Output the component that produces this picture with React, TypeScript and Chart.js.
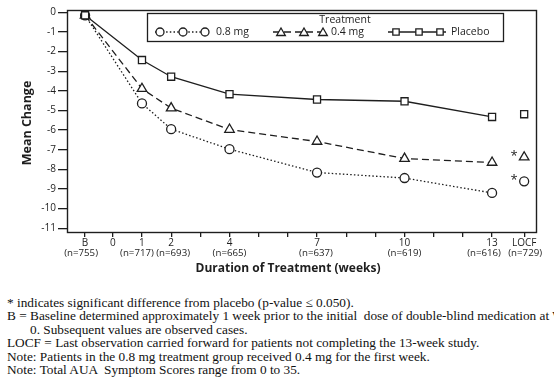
import React, { useEffect, useRef } from "react";
import { Chart, registerables } from "chart.js";

Chart.register(...registerables);

// ---- data ----
const weekPositions = [-0.95, 1, 2, 4, 7, 10, 13]; // B, 1, 2, 4, 7, 10, 13
const locfPosition = 14.1;
const xTickPositions = [-0.95, 0, 1, 2, 3, 4, 5, 6, 7, 8, 9, 10, 11, 12, 13, 14.1];
const xTickNames = ["B", "0", "1", "2", "", "4", "", "", "7", "", "", "10", "", "", "13", "LOCF"];
const xTickCounts = ["(n=755)", "", "(n=717)", "(n=693)", "", "(n=665)", "", "", "(n=637)", "", "", "(n=619)", "", "", "(n=616)", "(n=729)"];
const yTickValues = [0, -1, -2, -3, -4, -5, -6, -7, -8, -9, -10, -11];

const seriesNames = ["0.8 mg", "0.4 mg", "Placebo"];
const dose08 = [-0.15, -4.64, -5.95, -6.97, -8.16, -8.44, -9.2];
const dose04 = [-0.15, -3.89, -4.88, -5.97, -6.58, -7.45, -7.65];
const placebo = [-0.15, -2.43, -3.28, -4.17, -4.44, -4.53, -5.33];
const locfValues = [-8.61, -7.38, -5.19];
const significantAtLocf = [true, true, false];

const legendTitle = "Treatment";
const xTitle = "Duration of Treatment (weeks)";
const yTitle = "Mean Change";

const footnotes = [
  "* indicates significant difference from placebo (p-value \u2264 0.050).",
  "B = Baseline determined approximately 1 week prior to the initial  dose of double-blind medication at Week",
  "0. Subsequent values are observed cases.",
  "LOCF = Last observation carried forward for patients not completing the 13-week study.",
  "Note: Patients in the 0.8 mg treatment group received 0.4 mg for the first week.",
  "Note: Total AUA  Symptom Scores range from 0 to 35.",
];
const indentedFootnote = [false, false, true, false, false, false];

// ---- styles / layout ----
const INK = "#1e1e1e";
const SANS = "'Open Sans', Lato, sans-serif";
const countNudge = [-4, 0, -5, 2, 0, 0, 0, 0, -1, 0, 0, 0, 0, 0, -8, 1];
const styles = [
  { pointStyle: "circle", radius: 4.5, dash: [1.5, 2.2] },
  { pointStyle: "triangle", radius: 5.5, dash: [7, 4] },
  { pointStyle: "rect", radius: 5, dash: [] as number[] },
];

function drawMarker(ctx: CanvasRenderingContext2D, style: string, x: number, y: number, r: number) {
  ctx.beginPath();
  if (style === "circle") {
    ctx.arc(x, y, r, 0, Math.PI * 2);
  } else if (style === "triangle") {
    const w = r * Math.cos(Math.PI / 6);
    ctx.moveTo(x, y - r);
    ctx.lineTo(x + w, y + r / 2);
    ctx.lineTo(x - w, y + r / 2);
    ctx.closePath();
  } else {
    const s = r * Math.SQRT1_2;
    ctx.rect(x - s, y - s, 2 * s, 2 * s);
  }
  ctx.fillStyle = "#fff";
  ctx.fill();
  ctx.setLineDash([]);
  ctx.lineWidth = 1.3;
  ctx.strokeStyle = INK;
  ctx.stroke();
}

const overlayPlugin = {
  id: "overlay",
  afterDraw(chart: any) {
    const { ctx, chartArea, scales } = chart;
    const { left, right, top, bottom } = chartArea;
    ctx.save();
    // frame
    ctx.setLineDash([]);
    ctx.lineWidth = 1.4;
    ctx.strokeStyle = INK;
    ctx.strokeRect(left + 0.5, top + 0.5, right - left - 1, bottom - top);

    // sample-size line under tick labels
    ctx.fillStyle = INK;
    ctx.font = `9.7px ${SANS}`;
    ctx.textAlign = "center";
    ctx.textBaseline = "middle";
    xTickPositions.forEach((p, i) => {
      const t = xTickCounts[i];
      if (!t) return;
      ctx.fillText(t, scales.x.getPixelForValue(p) + countNudge[i], 253.5);
    });

    // asterisks at LOCF
    ctx.font = `13px ${SANS}`;
    const lx = scales.x.getPixelForValue(locfPosition);
    locfValues.forEach((v, i) => {
      if (!significantAtLocf[i]) return;
      const py = scales.y.getPixelForValue(v);
      ctx.fillText("*", lx - 10, py - 1);
    });

    // axis titles
    ctx.font = `bold 12px ${SANS}`;
    ctx.fillText(xTitle, left + (right - left) / 2 - 14, 269);
    ctx.save();
    ctx.translate(27, top + (bottom - top) / 2 + 2);
    ctx.rotate(-Math.PI / 2);
    ctx.font = `bold 12.5px ${SANS}`;
    ctx.fillText(yTitle, 0, 0);
    ctx.restore();

    // legend box
    const bx = 147, by = 13, bw = 356, bh = 28;
    ctx.fillStyle = "#fff";
    ctx.fillRect(bx, by, bw, bh);
    ctx.lineWidth = 1.3;
    ctx.strokeRect(bx + 0.5, by + 0.5, bw, bh);
    ctx.fillStyle = INK;
    ctx.font = `10.5px ${SANS}`;
    ctx.fillText(legendTitle, 345, 20.5);
    const entries = [
      { from: 155, to: 210, marks: [160, 183, 205], textX: 216 },
      { from: 273, to: 328, marks: [281, 304, 323], textX: 331 },
      { from: 388, to: 446, marks: [396, 419, 440], textX: 451 },
    ];
    const ly = 32;
    entries.forEach((e, i) => {
      const st = styles[i];
      ctx.beginPath();
      ctx.setLineDash(st.dash);
      ctx.lineWidth = 1.3;
      ctx.strokeStyle = INK;
      ctx.moveTo(e.from, ly);
      ctx.lineTo(e.to, ly);
      ctx.stroke();
      e.marks.forEach((mx) => {
        const r = st.pointStyle === "circle" ? 4 : st.pointStyle === "triangle" ? 5 : 4.5;
        drawMarker(ctx, st.pointStyle, mx, st.pointStyle === "triangle" ? ly + 1 : ly, r);
      });
      ctx.fillStyle = INK;
      ctx.font = `10.5px ${SANS}`;
      ctx.textAlign = "left";
      ctx.fillText(seriesNames[i], e.textX, ly);
    });
    ctx.restore();
  },
};

export default function App() {
  const canvasRef = useRef<HTMLCanvasElement | null>(null);

  useEffect(() => {
    const canvas = canvasRef.current;
    if (!canvas) return;
    const seriesValues = [dose08, dose04, placebo];
    const lineSets = seriesValues.map((vals, i) => ({
      label: seriesNames[i],
      data: vals.map((v, k) => ({ x: weekPositions[k], y: v })),
      borderColor: INK,
      backgroundColor: "#fff",
      borderWidth: 1.3,
      borderDash: styles[i].dash,
      pointStyle: styles[i].pointStyle,
      pointRadius: styles[i].radius,
      pointBorderWidth: 1.3,
      pointBorderColor: INK,
      pointBackgroundColor: "#fff",
      showLine: true,
      tension: 0,
      order: 2 - i,
    }));
    const locfSets = locfValues.map((v, i) => ({
      label: seriesNames[i] + " LOCF",
      data: [{ x: locfPosition, y: v }],
      borderColor: INK,
      backgroundColor: "#fff",
      pointStyle: styles[i].pointStyle,
      pointRadius: styles[i].radius,
      pointBorderWidth: 1.3,
      pointBorderColor: INK,
      pointBackgroundColor: "#fff",
      showLine: false,
    }));

    const chart = new Chart(canvas, {
      type: "scatter",
      data: { datasets: [...lineSets, ...locfSets] as any },
      plugins: [overlayPlugin as any],
      options: {
        animation: false,
        responsive: false,
        devicePixelRatio: 1,
        layout: { padding: { left: 0, right: 17, top: 10, bottom: 0 } },
        plugins: { legend: { display: false }, tooltip: { enabled: false } },
        scales: {
          x: {
            type: "linear",
            min: -1.57,
            max: 14.54,
            afterBuildTicks: (scale: any) => {
              scale.ticks = xTickPositions.map((v) => ({ value: v }));
            },
            afterFit: (scale: any) => {
              scale.height = 53;
            },
            grid: { drawOnChartArea: false, drawTicks: true, tickLength: 5, tickColor: INK, lineWidth: 1.3 },
            border: { display: false },
            ticks: {
              autoSkip: false,
              maxRotation: 0,
              minRotation: 0,
              padding: 0,
              color: INK,
              font: { family: SANS, size: 10, lineHeight: 1.15 },
              callback: (_v: any, idx: number) => xTickNames[idx] || "",
            },
          },
          y: {
            type: "linear",
            min: -11.19,
            max: 0.12,
            afterBuildTicks: (scale: any) => {
              scale.ticks = yTickValues.map((v) => ({ value: v }));
            },
            afterFit: (scale: any) => {
              scale.width = 67;
            },
            grid: { drawOnChartArea: false, drawTicks: true, tickLength: 9, tickColor: INK, lineWidth: 1.3 },
            border: { display: false },
            ticks: {
              padding: 2,
              color: INK,
              font: { family: SANS, size: 10 },
              callback: (v: any) => String(v),
            },
          },
        },
      },
    });
    return () => chart.destroy();
  }, []);

  return (
    <div
      style={{
        position: "absolute",
        left: 0,
        top: 0,
        width: 554,
        height: 392,
        overflow: "hidden",
        background: "#fff",
      }}
    >
      <canvas ref={canvasRef} width={554} height={285} style={{ display: "block", width: 554, height: 285 }} />
      <div
        style={{
          position: "absolute",
          left: 7,
          top: 296,
          fontFamily: "'Liberation Serif', 'Times New Roman', serif",
          fontSize: 13.3,
          lineHeight: "13.4px",
          color: "#111",
          whiteSpace: "nowrap",
        }}
      >
        {footnotes.map((t, i) => (
          <div key={i} style={{ paddingLeft: indentedFootnote[i] ? 23 : 0, whiteSpace: "pre" }}>
            {t}
          </div>
        ))}
      </div>
    </div>
  );
}
